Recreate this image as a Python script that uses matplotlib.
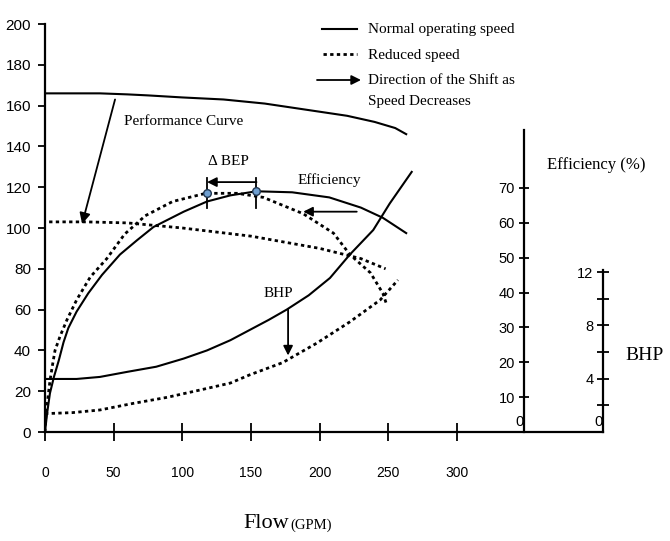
import matplotlib.pyplot as plt

# flow (GPM) and left-axis values
head_norm_x = [0, 40, 60, 75, 100, 130, 160, 190, 220, 240, 255, 263]
head_norm_y = [166, 166, 165.5, 165, 164, 163, 161, 158, 155, 152, 149, 146]
head_red_x = [3, 30, 60, 100, 150, 200, 230, 248]
head_red_y = [103, 103, 102.5, 100, 96, 90, 85, 80]

eff_norm_x = [0, 1.5, 3.6, 6.5, 10, 13.5, 17, 23, 31.5, 41.5, 54.6, 67, 79,
              101, 118, 135, 154, 180, 207, 230, 246, 263]
eff_norm_y = [0, 9, 19, 27, 35, 44, 51, 59, 68, 77, 87, 94, 100.5,
              108, 113, 116, 118, 117.5, 115, 110, 105, 97.5]
eff_red_x = [0, 0.7, 2, 3.6, 5.5, 7.3, 11, 16, 23, 33, 45, 58, 73, 93, 117,
             140, 159, 188, 210, 222, 237, 246, 249]
eff_red_y = [0, 9, 16, 25, 33, 40, 47, 55, 64.7, 76, 85, 97, 106, 113, 117,
             117, 115, 107, 97.5, 87, 78, 68, 62]

bhp_norm_x = [0, 23, 40, 60, 81, 101, 118, 135, 149, 163, 176, 192, 207.5,
              222, 239, 251, 267]
bhp_norm_y = [26, 26, 27, 29.5, 32, 36, 40, 45, 50, 55, 60, 67, 75.5,
              87, 99, 112, 127.5]
bhp_red_x = [0, 20, 40, 64, 89, 113, 135, 149, 173, 198, 222, 244, 257]
bhp_red_y = [9, 9.5, 10.8, 14, 17, 20.6, 24, 28, 34, 43.6, 54, 64.7, 74.5]

bep_x = [118, 154]
bep_y = [117, 118]

x_ticks = [0, 50, 100, 150, 200, 250, 300]
y_ticks = [0, 20, 40, 60, 80, 100, 120, 140, 160, 180, 200]
eff_ticks = [10, 20, 30, 40, 50, 60, 70]
bhp_major = [4, 8, 12]
bhp_minor = [2, 6, 10]

serif = "Liberation Serif"
sans = "Liberation Sans"

fig = plt.figure(figsize=(6.7, 5.41), dpi=100)
ax = fig.add_axes([45 / 670, 109 / 541, 558 / 670, 408 / 541])
ax.set_xlim(0, 406.3)
ax.set_ylim(0, 200)
for s in ["top", "right"]:
    ax.spines[s].set_visible(False)
for s in ["left", "bottom"]:
    ax.spines[s].set_linewidth(1.6)

ax.set_xticks(x_ticks)
ax.set_yticks(y_ticks)
ax.tick_params(axis="x", direction="inout", length=13, width=1.3, pad=18,
               labelsize=10)
ax.tick_params(axis="y", direction="out", length=5, width=1.3, pad=5,
               labelsize=11)
for lab in ax.get_xticklabels() + ax.get_yticklabels():
    lab.set_family(sans)

lw = 1.5
ax.plot(head_norm_x, head_norm_y, color="black", lw=lw)
ax.plot(eff_norm_x, eff_norm_y, color="black", lw=lw)
ax.plot(bhp_norm_x, bhp_norm_y, color="black", lw=lw)
dot = (0, (1.2, 1.2))
ax.plot(head_red_x, head_red_y, color="black", lw=2, linestyle=dot)
ax.plot(eff_red_x, eff_red_y, color="black", lw=2, linestyle=dot)
ax.plot(bhp_red_x, bhp_red_y, color="black", lw=2, linestyle=dot)

# BEP markers and delta arrow
for bx in bep_x:
    ax.plot([bx, bx], [110, 124.5], color="black", lw=1.3)
ax.plot(bep_x, bep_y, "o", ms=5.5, mfc="#6f9fd0", mec="#1f3550", mew=1)
ax.annotate("", xy=(bep_x[0], 122.5), xytext=(bep_x[1], 122.5),
            arrowprops=dict(arrowstyle="-|>", color="black", lw=1.3,
                            mutation_scale=14, shrinkA=0, shrinkB=0))
ax.text(118.7, 132.5, "Δ BEP", family=serif, fontsize=11, va="center")

ax.annotate("", xy=(27, 102), xytext=(51, 163),
            arrowprops=dict(arrowstyle="-|>", color="black", lw=1.3,
                            mutation_scale=16, shrinkA=0, shrinkB=0))
ax.text(57.5, 152, "Performance Curve", family=serif, fontsize=11, va="center")

ax.annotate("", xy=(188, 108), xytext=(227, 108),
            arrowprops=dict(arrowstyle="-|>", color="black", lw=1.3,
                            mutation_scale=14, shrinkA=0, shrinkB=0))
ax.text(184, 123.5, "Efficiency", family=serif, fontsize=11, va="center")

ax.annotate("", xy=(177, 37.5), xytext=(177, 60),
            arrowprops=dict(arrowstyle="-|>", color="black", lw=1.3,
                            mutation_scale=14, shrinkA=0, shrinkB=0))
ax.text(159, 68, "BHP", family=serif, fontsize=11, va="center")

# efficiency axis
ax_eff = fig.add_axes([524 / 670, 109 / 541, 0.001, 302 / 541])
ax_eff.patch.set_visible(False)
ax_eff.set_ylim(0, 86.6)
for s in ["top", "right", "bottom"]:
    ax_eff.spines[s].set_visible(False)
ax_eff.spines["left"].set_linewidth(1.6)
ax_eff.set_xticks([])
ax_eff.set_yticks(eff_ticks)
ax_eff.tick_params(axis="y", direction="inout", length=7, width=1.3, pad=3,
                   labelsize=10.5)
for lab in ax_eff.get_yticklabels():
    lab.set_family(sans)
ax_eff.text(-0.02, 3, "0", transform=ax_eff.get_yaxis_transform(),
            ha="right", va="center", family=sans, fontsize=10.5)

# BHP axis
ax_bhp = fig.add_axes([603 / 670, 109 / 541, 0.001, 162 / 541])
ax_bhp.patch.set_visible(False)
ax_bhp.set_ylim(0, 12.15)
for s in ["top", "right", "bottom"]:
    ax_bhp.spines[s].set_visible(False)
ax_bhp.spines["left"].set_linewidth(1.6)
ax_bhp.set_xticks([])
ax_bhp.set_yticks(bhp_major)
ax_bhp.set_yticks(bhp_minor, minor=True)
ax_bhp.tick_params(axis="y", which="both", direction="inout", length=8,
                   width=1.3, pad=3, labelsize=10.5)
for lab in ax_bhp.get_yticklabels():
    lab.set_family(sans)
ax_bhp.text(-0.02, 0.75, "0", transform=ax_bhp.get_yaxis_transform(),
            ha="right", va="center", family=sans, fontsize=10.5)

fig.text(547 / 670, 1 - 165 / 541, "Efficiency (%)", family=serif,
         fontsize=12, va="center")
fig.text(625 / 670, 1 - 356 / 541, "BHP", family=serif, fontsize=14,
         va="center")
fig.text(243 / 670, 1 - 523 / 541, "Flow", family=serif, fontsize=16,
         va="center")
fig.text(290 / 670, 1 - 525 / 541, "(GPM)", family=serif, fontsize=10.5,
         va="center")

# legend drawn by hand
lax = fig.add_axes([0, 0, 1, 1])
lax.set_xlim(0, 670)
lax.set_ylim(541, 0)
lax.axis("off")
lax.patch.set_visible(False)
lax.plot([322, 357], [29, 29], color="black", lw=1.5)
lax.plot([323, 357], [54, 54], color="black", lw=2, linestyle=dot)
lax.annotate("", xy=(361, 80), xytext=(317, 80),
             arrowprops=dict(arrowstyle="-|>", color="black", lw=1.3,
                             mutation_scale=14, shrinkA=0, shrinkB=0))
lax.text(368, 29, "Normal operating speed", family=serif, fontsize=11,
         va="center")
lax.text(368, 56, "Reduced speed", family=serif, fontsize=11, va="center")
lax.text(368, 81, "Direction of the Shift as", family=serif, fontsize=11,
         va="center")
lax.text(368, 101, "Speed Decreases", family=serif, fontsize=11, va="center")

fig.savefig("out.png", dpi=100)
